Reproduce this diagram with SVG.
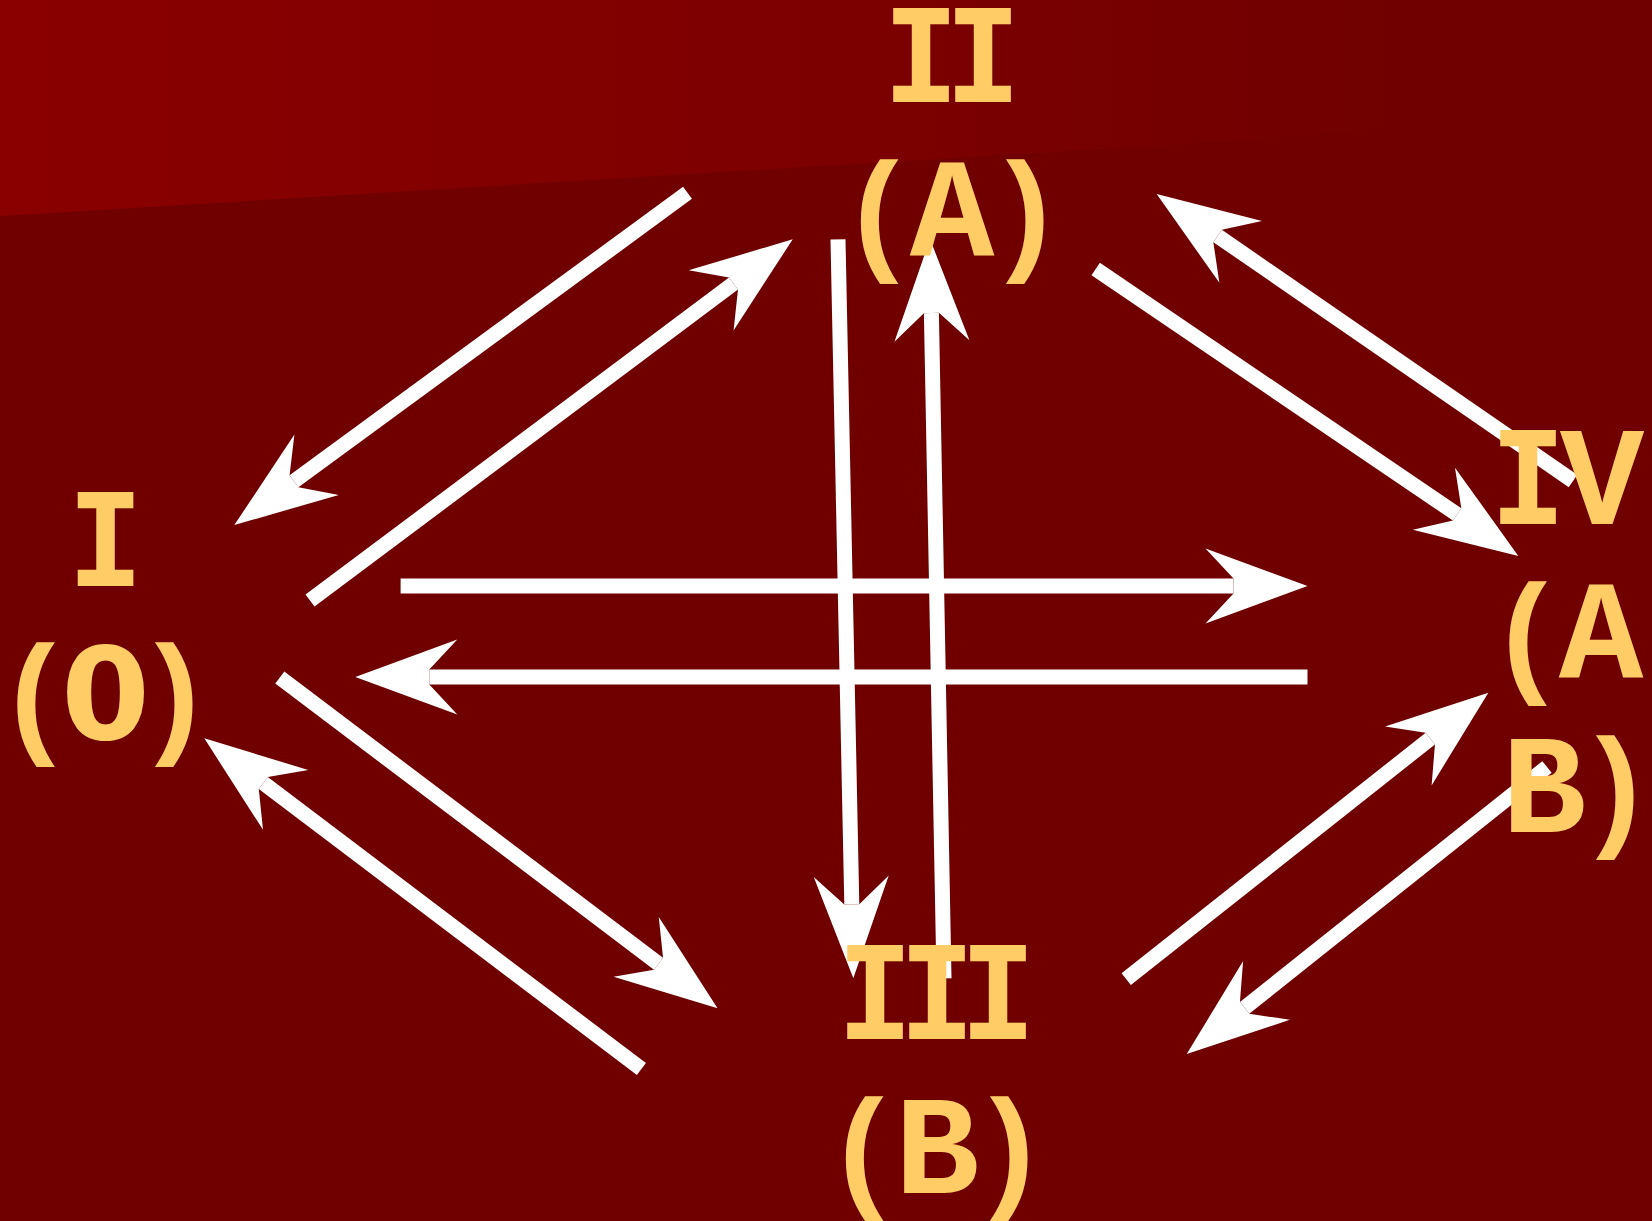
<svg xmlns="http://www.w3.org/2000/svg" width="1652" height="1221" viewBox="0 0 1652 1221">
  <defs>
    <linearGradient id="band" x1="0" y1="0" x2="1400" y2="0" gradientUnits="userSpaceOnUse">
      <stop offset="0" stop-color="#8a0000"/>
      <stop offset="0.55" stop-color="#7e0000"/>
      <stop offset="1" stop-color="#700000"/>
    </linearGradient>
    <marker id="ah" markerUnits="userSpaceOnUse" orient="auto" refX="0" refY="0" viewBox="-30 -40 106 80" markerWidth="106" markerHeight="80" overflow="visible">
      <path d="M74,0 L-28,-37.5 L0,-7.5 L0,7.5 L-28,37.5 Z" fill="#ffffff"/>
    </marker>
    <style>
      .c { stroke: #ffffff; stroke-width: 15; stroke-linecap: butt; fill: none; marker-end: url(#ah); }
      .t { font-family: "Liberation Mono", "DejaVu Sans Mono", monospace; font-weight: bold; font-size: 141px; fill: #ffcc66; text-anchor: middle; }
      .i { font-family: "DejaVu Sans Mono", "Liberation Mono", monospace; font-size: 128px; }
      .p { font-size: 133px; }
      .z { font-family: "DejaVu Sans", "Liberation Sans", sans-serif; font-size: 128px; }
    </style>
  </defs>
  <rect x="0" y="0" width="1652" height="1221" fill="#700000"/>
  <polygon points="0,0 1652,0 1652,105 1200,143 0,216" fill="url(#band)"/>

  <g id="connectors">
    <line class="c" x1="687.5" y1="192.8" x2="294" y2="481.3"/>
    <line class="c" x1="310" y1="600.6" x2="733.5" y2="283.6"/>
    <line class="c" x1="838" y1="239.3" x2="851.8" y2="904.3"/>
    <line class="c" x1="944" y1="978.3" x2="931.4" y2="313"/>
    <line class="c" x1="1095.7" y1="269" x2="1457.1" y2="514.4"/>
    <line class="c" x1="1573" y1="481" x2="1217.6" y2="236"/>
    <line class="c" x1="400.6" y1="586" x2="1233.5" y2="586"/>
    <line class="c" x1="1307.5" y1="677" x2="429.3" y2="677"/>
    <line class="c" x1="279.8" y1="677.5" x2="658.5" y2="963.7"/>
    <line class="c" x1="641.4" y1="1069" x2="263.3" y2="783"/>
    <line class="c" x1="1126.2" y1="979.2" x2="1430.3" y2="738.6"/>
    <line class="c" x1="1547" y1="767" x2="1244.6" y2="1007.9"/>
  </g>

  <g id="node-I">
    <text class="t"><tspan class="i" x="105.5" y="586">I</tspan><tspan class="p" x="35" y="739">(</tspan><tspan class="z" x="105.5" y="739">0</tspan><tspan class="p" x="175" y="739">)</tspan></text>
  </g>
  <g id="node-II">
    <text class="t"><tspan class="i" x="921 983" y="102">II</tspan><tspan class="p" x="878.5" y="256">(</tspan><tspan x="952" y="256">A</tspan><tspan class="p" x="1026" y="256">)</tspan></text>
  </g>
  <g id="node-III">
    <text class="t"><tspan class="i" x="875 937 998" y="1039">III</tspan><tspan class="p" x="863.5" y="1193">(</tspan><tspan x="937" y="1193">B</tspan><tspan class="p" x="1010" y="1193">)</tspan></text>
  </g>
  <g id="node-IV">
    <text class="t"><tspan class="i" x="1528" y="524">I</tspan><tspan x="1602" y="524">V</tspan><tspan class="p" x="1527" y="678">(</tspan><tspan x="1601" y="678">A</tspan><tspan x="1544" y="832">B</tspan><tspan class="p" x="1616" y="832">)</tspan></text>
  </g>
</svg>
